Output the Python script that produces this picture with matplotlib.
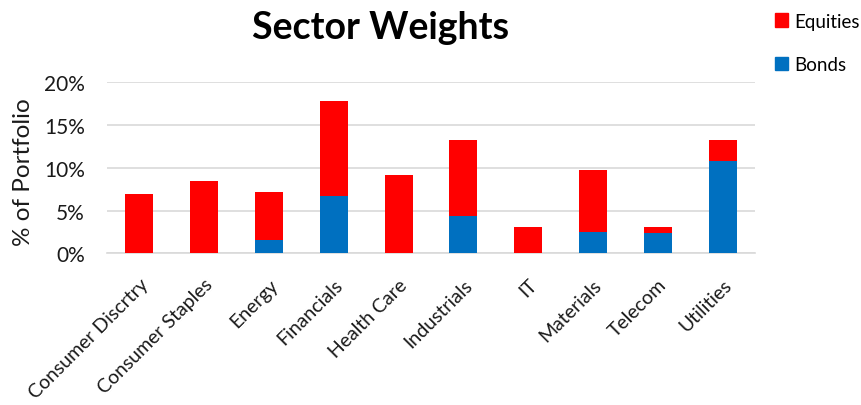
import matplotlib
matplotlib.use("Agg")
import matplotlib.pyplot as plt
from matplotlib.ticker import FuncFormatter, MultipleLocator
from matplotlib.patches import Patch

plt.rcParams['font.family'] = ['Lato', 'DejaVu Sans']

categories = ["Consumer Discrtry", "Consumer Staples", "Energy", "Financials",
              "Health Care", "Industrials", "IT", "Materials", "Telecom", "Utilities"]
bonds = [0.0, 0.0, 1.5, 6.7, 0.0, 4.4, 0.0, 2.5, 2.4, 10.8]
totals = [6.9, 8.5, 7.2, 17.8, 9.1, 13.2, 3.1, 9.7, 3.1, 13.2]
equities = [t - b for t, b in zip(totals, bonds)]

red = "#FF0000"
blue = "#0070C0"

fig = plt.figure(figsize=(8.62, 4.06), dpi=100)
ax = fig.add_axes([0.124, 0.3737, 0.752, 0.4211])

x = range(len(categories))
w = 0.43
ax.bar(x, bonds, width=w, color=blue, zorder=3)
ax.bar(x, equities, width=w, bottom=bonds, color=red, zorder=3)

ax.set_xlim(-0.5, len(categories) - 0.5)
ax.set_ylim(0, 20)
ax.yaxis.set_major_locator(MultipleLocator(5))
ax.yaxis.set_major_formatter(FuncFormatter(lambda v, p: f"{v:.0f}%"))
ax.grid(axis='y', color='#d9d9d9', linewidth=1.2, zorder=0)
for s in ['top', 'right', 'left']:
    ax.spines[s].set_visible(False)
ax.spines['bottom'].set_color('#d9d9d9')
ax.spines['bottom'].set_linewidth(1.2)
ax.tick_params(axis='both', length=0, labelsize=15, colors='#1a1a1a')
ax.tick_params(axis='y', pad=16)
ax.tick_params(axis='x', pad=16)
ax.set_xticks(list(x))
ax.set_xticklabels(categories, rotation=45, ha='right', rotation_mode='anchor', fontsize=14)

fig.text(24 / 862, 1 - 172 / 406, "% of Portfolio", rotation=90, ha='center', va='center',
         fontsize=17.5, color='#1a1a1a')

fig.text(0.441, 0.93, "Sector Weights", ha='center', va='center', fontsize=27,
         fontweight='bold', color='black')

handles = [Patch(color=red, label='Equities'), Patch(color=blue, label='Bonds')]
fig.legend(handles=handles, loc='upper left', bbox_to_anchor=(0.89, 0.985),
           frameon=False, fontsize=13.5, handlelength=0.7, handleheight=0.7,
           handletextpad=0.35, labelspacing=1.4, borderaxespad=0)

fig.savefig("out.png", dpi=100)
